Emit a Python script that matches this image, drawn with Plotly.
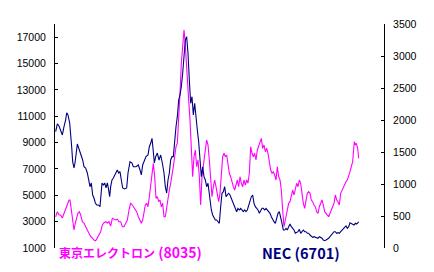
import plotly.graph_objects as go

# Tokyo Electron (8035) - left axis
tel_t = [5,10,15,20,25,30,35,40,45,48,52,56,60,64,68,72,76,80,85,90,95,100,105,110,115,120,125,130,135,140,
         145,150,155,160,165,170,175,180,185,190,195,200,205,210,215,220,225,230,235,240,
         248,253,258,262,266,270,274,278,282,286,290,294,298,302,306,310,314,318,322,326,330,334,338,342,346,350,
         354,358,362,366,370,374,378,382,386,390,393,396,400,404,408,412,416,420,424,428,432,436,440,444,448,454,
         458,462,466,
         470,474,478,482,486,490,494,498,502,506,510,514,518,522,526,530,534,538,542,546,550,554,558,562,566,570,
         574,578,582,586,590,594,598,602,606,610,614,618,622,626,630,634,638,642,646,650,654,658,662,666,670,674,
         678,682,686,690,694,
         700,704,708,712,716,720,724,728,732,736,740,744,748,752,756,760,764,768,772,776,780,784,788,792,796,800,
         804,808,812,816,820,824,828,832,836,840,844,848,852,856,860,864,868,872,876,880,884,888,892,896,898,901,
         904,907,911,914]
tel_price = [3375,3755,3504,3504,3277,3656,4036,4415,4643,4643,3884,2897,2366,2897,3375,3656,3755,3504,2996,2897,
             2617,2366,2138,1858,1759,1607,1554,1759,1987,2237,2746,2920,2996,2897,2996,2670,3254,3178,3125,3178,
             2996,2996,2617,2617,2821,3125,3884,4415,4263,4036,
             3755,3375,3125,2875,3125,3755,4263,4392,4134,4893,5910,6920,7428,6411,4772,4893,4514,4643,4134,4392,
             3375,3375,4134,4643,5402,5910,6411,7170,7929,8688,8946,10464,12741,15017,16535,17545,16786,15268,13750,
             12232,10714,8438,6411,7929,8438,7170,7679,6411,4263,6411,7428,8438,9196,8817,7679,
             6161,4893,5652,6161,5652,5022,4514,5151,6669,7929,8187,7929,8058,7170,6669,6411,5910,5652,5402,5781,
             6161,5652,6411,5910,5652,6161,5781,6161,5910,6669,8688,8187,7929,8187,7679,8438,8688,9067,9325,8566,
             8817,8309,8566,8187,7428,6920,6669,6791,6540,6161,7170,6411,6161,5402,3884,2617,3125,
             3884,4392,4514,5022,5402,5022,5402,5910,5652,6161,5910,4893,4392,4013,4514,5151,5273,5151,4643,4514,
             4263,4134,3755,3634,4134,4392,4643,4263,3755,3634,3504,3375,3634,3884,4013,4392,5022,4643,4514,4263,
             5151,5402,5652,5781,6032,6161,6411,6791,7170,7550,8187,9067,8817,8946,8566,7808]

# NEC (6701) - right axis
nec_t = [5,10,15,20,25,30,35,38,42,47,50,53,56,60,63,66,70,74,78,82,86,90,95,100,104,108,112,116,120,124,
         128,133,138,141,144,148,152,156,160,163,167,170,174,178,182,186,190,194,198,202,206,212,218,222,228,234,
         238,
         246,253,258,262,266,270,276,282,286,290,294,298,301,305,310,315,320,325,330,334,338,342,346,350,354,358,
         362,366,370,374,378,382,386,390,394,398,402,406,410,414,418,422,426,430,434,438,442,446,450,454,458,462,
         466,
         468,472,476,480,484,488,492,496,500,504,508,512,516,520,524,528,532,536,540,544,548,552,556,560,564,568,
         572,576,580,584,588,592,596,600,604,608,612,616,620,624,628,632,636,640,644,648,652,656,660,664,668,672,
         676,680,684,688,692,
         696,700,704,708,712,716,720,724,728,732,736,740,744,748,752,756,760,764,768,772,776,780,784,788,792,796,
         800,804,808,812,816,820,824,828,832,836,840,844,848,852,856,860,864,868,872,876,880,884,888,892,896,900,
         904,908,912,914]
nec_price = [1817,1938,1906,1844,1766,1895,2000,2114,2078,1953,1797,1583,1348,1250,1328,1484,1625,1563,1505,1427,
             1375,1270,1250,1172,1036,958,1016,828,781,703,672,672,645,802,1016,984,1016,938,1016,938,802,958,1063,
             1094,1141,1192,1219,1172,1192,1063,938,922,938,1172,1348,1328,1270,
             1270,1297,1219,1141,1297,1348,1427,1453,1583,1636,1714,1505,1328,1427,1484,1375,1453,1328,1172,958,
             859,1063,1172,1375,1427,1427,1688,1895,2052,2313,2391,2520,2730,2989,3250,3302,3042,2625,2261,2364,
             2078,2261,2000,1844,1661,1375,1114,1270,1114,1063,958,1011,802,
             698,594,516,464,438,438,411,386,645,855,880,958,802,828,855,828,777,723,672,620,567,620,594,620,594,
             567,594,567,594,672,750,802,828,698,645,620,594,542,594,620,620,594,620,594,552,542,489,438,411,386,
             489,542,567,489,386,281,281,
             308,281,333,375,333,308,281,230,239,255,292,230,255,281,255,255,230,230,203,177,167,177,167,152,152,
             177,167,152,125,114,125,136,152,177,203,230,255,255,230,239,230,255,281,308,333,344,308,333,395,386,
             375,359,386,375,395,411]

left_ticks = list(range(1000, 18000, 2000))
right_ticks = list(range(0, 3501, 500))

fig = go.Figure()
fig.add_trace(go.Scatter(x=tel_t, y=tel_price, mode="lines", name="東京エレクトロン(8035)",
                         line=dict(color="#FF00FF", width=1.1), yaxis="y"))
fig.add_trace(go.Scatter(x=nec_t, y=nec_price, mode="lines", name="NEC(6701)",
                         line=dict(color="#000080", width=1.1), yaxis="y2"))

axis_font = dict(family="Liberation Sans, Arial, sans-serif", size=10.5, color="black")

fig.update_layout(
    width=434, height=272,
    margin=dict(l=55, r=50, t=24, b=24, autoexpand=False),
    paper_bgcolor="white", plot_bgcolor="white",
    showlegend=False,
    xaxis=dict(range=[3, 990], visible=False, showgrid=False, zeroline=False),
    yaxis=dict(range=[1000, 18000], tickvals=left_ticks, ticktext=[str(v) for v in left_ticks],
               showline=True, linecolor="black", linewidth=1,
               ticks="inside", ticklen=3, tickcolor="black", tickwidth=1,
               showgrid=False, zeroline=False, tickfont=axis_font, ticklabelstandoff=6),
    yaxis2=dict(range=[0, 3500], tickvals=right_ticks, ticktext=[str(v) for v in right_ticks],
                overlaying="y", side="right",
                showline=True, linecolor="black", linewidth=1,
                ticks="inside", ticklen=3, tickcolor="black", tickwidth=1,
                showgrid=False, zeroline=False, tickfont=axis_font, ticklabelstandoff=6),
    annotations=[
        dict(text="<b><span style='font-size:12px'>東京エレクトロン</span> (8035)</b>",
             xref="paper", yref="paper", x=0.005, y=-0.018,
             xanchor="left", yanchor="middle", showarrow=False,
             font=dict(family="Noto Sans CJK JP, sans-serif", size=14, color="#FF00FF")),
        dict(text="<b>NEC (6701)</b>", xref="paper", yref="paper", x=0.624, y=-0.018,
             xanchor="left", yanchor="middle", showarrow=False,
             font=dict(family="Noto Sans CJK JP, sans-serif", size=14.5, color="#000080")),
    ],
)

fig.write_html("out.html")
